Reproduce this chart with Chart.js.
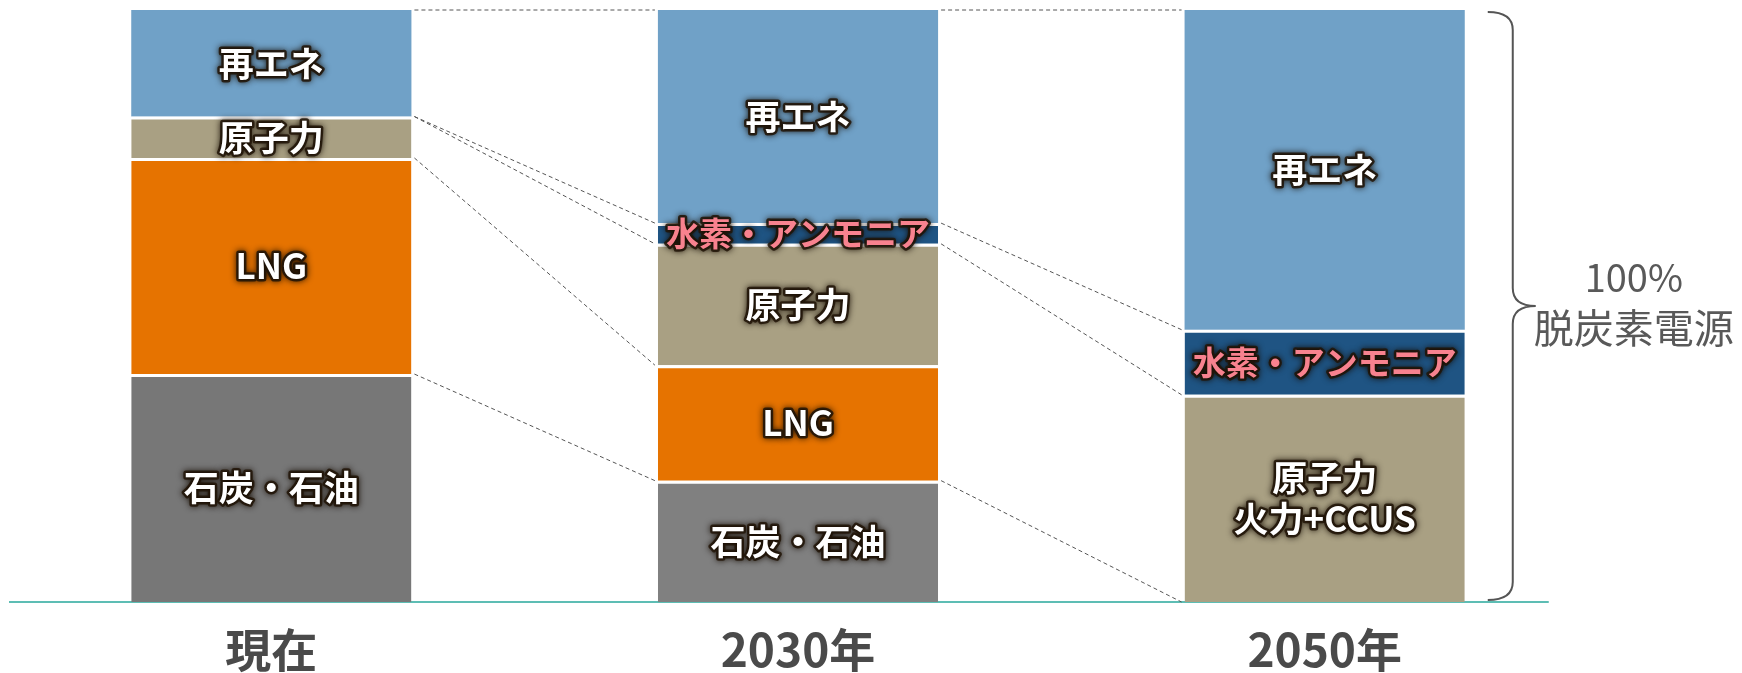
<!DOCTYPE html>
<html lang="ja">
<head>
<meta charset="utf-8">
<title>電源構成の見通し</title>
<script src="https://cdn.jsdelivr.net/npm/chart.js@4.4.1/dist/chart.umd.min.js"></script>
<style>
  html, body { margin: 0; padding: 0; background: #fff; }
  canvas { display: block; }
</style>
</head>
<body>
<canvas id="mixChart" width="1742" height="673"></canvas>
<script>
const years = ["現在", "2030年", "2050年"]

// 電源構成 (%) 下から積み上げ
const coalOil = [38.5, 20.5, 0]
const lng = [36.5, 19.5, 0]
const nuclear = [7, 20.5, 35]
const hydrogen = [0, 3.5, 11]
const renewables = [18, 36, 54]

const nuclearLabels = ["原子力", "原子力", "原子力\n火力+CCUS"]
const braceLabels = ["100%", "脱炭素電源"]

// 隣の棒との境界をつなぐ点線 (境界番号 0=底 … 5=頂上)
const links = [
  { from: 0, bounds: [1, 2, 3, 4, 5] },
  { from: 1, bounds: [1, 3, 4, 5] },
]

const FONT = "'Noto Sans CJK JP', 'Noto Sans', sans-serif"

function boundary(chart, i, k) {
  let sum = 0
  for (let d = 0; d < k; d++) sum += chart.data.datasets[d].data[i]
  return sum
}

function glowText(ctx, text, x, y, color) {
  ctx.save()
  ctx.shadowColor = "rgba(20, 10, 0, 1)"
  ctx.shadowBlur = 6
  ctx.lineJoin = "round"
  ctx.lineWidth = 5
  ctx.strokeStyle = "rgba(35, 22, 8, 0.85)"
  ctx.strokeText(text, x, y)
  ctx.shadowBlur = 3
  ctx.fillStyle = color
  ctx.fillText(text, x, y)
  ctx.restore()
}

const overlay = {
  id: "overlay",
  beforeDatasetsDraw(chart) {
    const { ctx, chartArea, scales: { y } } = chart
    const bars = chart.getDatasetMeta(0).data
    const right = (i) => bars[i].x + bars[i].width / 2
    const left = (i) => bars[i].x - bars[i].width / 2
    const y0 = y.getPixelForValue(0)

    ctx.save()
    // 基準線
    ctx.strokeStyle = "#5dbdb4"
    ctx.lineWidth = 2
    ctx.beginPath()
    ctx.moveTo(chartArea.left + 1, y0)
    ctx.lineTo(right(2) + 84, y0)
    ctx.stroke()

    // 点線
    ctx.strokeStyle = "#555"
    ctx.lineWidth = 1
    ctx.setLineDash([4, 3])
    links.forEach((l) => {
      l.bounds.forEach((k) => {
        ctx.beginPath()
        ctx.moveTo(right(l.from) + 3, y.getPixelForValue(boundary(chart, l.from, k)))
        ctx.lineTo(left(l.from + 1) - 3, y.getPixelForValue(boundary(chart, l.from + 1, k)))
        ctx.stroke()
      })
    })
    ctx.restore()
  },
  afterDatasetsDraw(chart) {
    const { ctx, scales: { y } } = chart

    // 棒の中のラベル
    ctx.save()
    ctx.textAlign = "center"
    ctx.textBaseline = "middle"
    chart.data.datasets.forEach((ds, di) => {
      ctx.font = "bold " + (di === 3 ? 33 : 35) + "px " + FONT
      chart.getDatasetMeta(di).data.forEach((el, i) => {
        if (!ds.data[i]) return
        const text = di === 2 ? nuclearLabels[i] : ds.label
        const lines = text.split("\n")
        const cy = (el.y + el.base) / 2
        const color = di === 3 ? "#f8828f" : "#fff"
        lines.forEach((line, n) => {
          glowText(ctx, line, el.x, cy + (n - (lines.length - 1) / 2) * 41, color)
        })
      })
    })
    ctx.restore()

    // 右側の波括弧
    const last = chart.getDatasetMeta(0).data[2]
    const x0 = last.x + last.width / 2 + 23
    const x1 = x0 + 25
    const x2 = x1 + 23
    const top = y.getPixelForValue(100) + 2
    const bot = y.getPixelForValue(0) - 2
    const mid = (top + bot) / 2
    const r = 18
    ctx.save()
    ctx.strokeStyle = "#555"
    ctx.lineWidth = 2
    ctx.beginPath()
    ctx.moveTo(x0, top)
    ctx.quadraticCurveTo(x1, top, x1, top + r)
    ctx.lineTo(x1, mid - r)
    ctx.quadraticCurveTo(x1, mid, x2, mid)
    ctx.quadraticCurveTo(x1, mid, x1, mid + r)
    ctx.lineTo(x1, bot - r)
    ctx.quadraticCurveTo(x1, bot, x0, bot)
    ctx.stroke()

    ctx.fillStyle = "#595959"
    ctx.textAlign = "center"
    ctx.textBaseline = "middle"
    ctx.font = "38px " + FONT
    ctx.fillText(braceLabels[0], x2 + 98, mid - 28)
    ctx.font = "40px " + FONT
    ctx.fillText(braceLabels[1], x2 + 98, mid + 22)
    ctx.restore()
  },
}

new Chart(document.getElementById("mixChart"), {
  type: "bar",
  data: {
    labels: years,
    datasets: [
      { label: "石炭・石油", data: coalOil, backgroundColor: ["#777777", "#808080", "#808080"] },
      { label: "LNG", data: lng, backgroundColor: "#e67300" },
      { label: "原子力", data: nuclear, backgroundColor: "#a9a083" },
      { label: "水素・アンモニア", data: hydrogen, backgroundColor: "#1f5483" },
      { label: "再エネ", data: renewables, backgroundColor: "#70a1c7" },
    ],
  },
  options: {
    responsive: false,
    animation: false,
    layout: { padding: { left: 8, right: 154, top: 10, bottom: -25 } },
    datasets: {
      bar: {
        categoryPercentage: 0.532,
        barPercentage: 1,
        borderColor: "#fff",
        borderSkipped: false,
        borderWidth: (c) => (c.datasetIndex === 4 ? 0 : { top: 3, bottom: 0, left: 0, right: 0 }),
      },
    },
    plugins: {
      legend: { display: false },
      tooltip: { enabled: false },
    },
    scales: {
      x: {
        stacked: true,
        grid: { display: false, drawTicks: false },
        border: { display: false },
        ticks: {
          color: "#4a4a4a",
          padding: 25,
          font: { family: FONT, size: 46, weight: "bold", lineHeight: 1 },
        },
      },
      y: {
        stacked: true,
        min: 0,
        max: 100,
        display: false,
      },
    },
  },
  plugins: [overlay],
})
</script>
</body>
</html>
